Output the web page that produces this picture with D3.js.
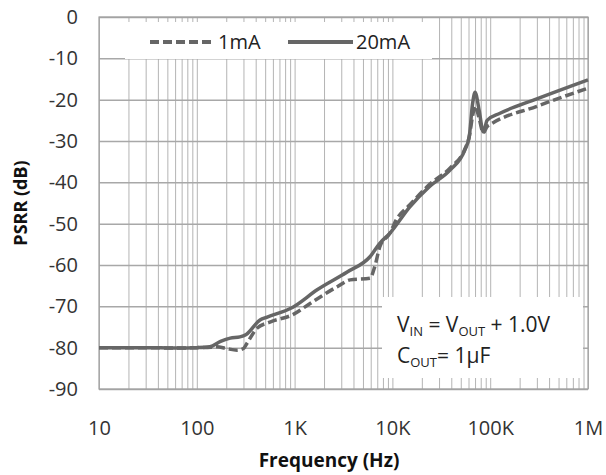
<!DOCTYPE html>
<html>
<head>
<meta charset="utf-8">
<script src="https://cdn.jsdelivr.net/npm/d3@7"></script>
<style>
  body { margin: 0; background: #fff; }
  svg { display: block; font-family: "Open Sans", sans-serif; }
  .grid line { stroke: #b4b4b4; stroke-width: 1; }
  .grid path { display: none; }
  .hgrid line { stroke: #a8a8a8; stroke-width: 1.5; }
  .axis path, .axis line { display: none; }
  .axis text { fill: #333; font-size: 20px; font-family: "Open Sans", sans-serif; }
  .curve { fill: none; stroke: #666; stroke-width: 3.5; stroke-linejoin: round; }
</style>
</head>
<body>
<div id="chart"></div>
<script>
// 20mA curve (solid)
const freq20mA = [10, 30, 60, 100, 136, 175, 220, 276, 320, 443, 525, 960, 1700, 3450, 5900, 7460, 9440,
  15000, 24000, 39000, 55000, 61000, 66000, 70000, 77000, 85000, 93000, 126000, 300000, 1000000]
const psrr20mA = [-80, -80, -80.1, -80, -79.8, -78.5, -77.7, -77.4, -76.8, -73.3, -72.6, -70.2, -66, -61.7, -58, -54.7, -52.3,
  -46, -41, -37, -32.2, -29, -21, -18.2, -22.5, -27.8, -25, -23.3, -19.8, -15.2]

// 1mA curve (dashed)
const freq1mA = [10, 30, 60, 100, 140, 161, 200, 258, 300, 325, 412, 560, 960, 1440, 2700, 3700, 5900, 6600, 7460, 9440,
  11000, 15000, 24000, 39000, 55000, 61000, 66000, 70000, 77000, 85000, 93000, 100000, 300000, 1000000]
const psrr1mA = [-80, -80, -80.1, -80, -79.9, -79.8, -80.2, -80.6, -80.2, -79, -75.3, -73.8, -72, -69.3, -65.3, -63.6, -63.2, -60.4, -55.5, -52.3,
  -49, -45.5, -40.5, -36.5, -32, -29, -24, -21.5, -24.5, -28, -26.5, -26, -21.6, -17.2]

const xTicks = [10, 100, 1e3, 1e4, 1e5, 1e6]
const xTickLabels = ['10', '100', '1K', '10K', '100K', '1M']
const yTicks = [0, -10, -20, -30, -40, -50, -60, -70, -80, -90]

const W = 606, H = 475
const margin = { left: 99, right: 588, top: 17, bottom: 389 }

const x = d3.scaleLog().domain([10, 1e6]).range([margin.left, margin.right])
const y = d3.scaleLinear().domain([-90, 0]).range([margin.bottom, margin.top])

const svg = d3.select('#chart').append('svg')
  .attr('width', W)
  .attr('height', H)

// minor + decade vertical grid
const minorTicks = []
for (let d = 10; d < 1e6; d *= 10) {
  for (let k = 1; k < 10; k++) minorTicks.push(d * k)
}
minorTicks.push(1e6)

svg.append('g')
  .attr('class', 'grid')
  .attr('transform', 'translate(0,' + margin.bottom + ')')
  .call(d3.axisBottom(x).tickValues(minorTicks).tickSize(-(margin.bottom - margin.top)).tickFormat(''))

// horizontal grid
svg.append('g')
  .attr('class', 'grid hgrid')
  .attr('transform', 'translate(' + margin.left + ',0)')
  .call(d3.axisLeft(y).tickValues(yTicks).tickSize(-(margin.right - margin.left)).tickFormat(''))

// white boxes behind legend and note
svg.append('rect').attr('x', 125).attr('y', 22).attr('width', 307).attr('height', 37).attr('fill', '#fff')
svg.append('rect').attr('x', 382).attr('y', 297).attr('width', 201).attr('height', 81).attr('fill', '#fff')

// frame
svg.append('rect')
  .attr('x', margin.left).attr('y', margin.top)
  .attr('width', margin.right - margin.left).attr('height', margin.bottom - margin.top)
  .attr('fill', 'none')
  .attr('stroke', '#a0a0a0')
  .attr('stroke-width', 1.2)

// axes labels
svg.append('g')
  .attr('class', 'axis')
  .attr('transform', 'translate(0,425)')
  .call(d3.axisBottom(x).tickValues(xTicks).tickSize(0)
    .tickFormat((d, i) => xTickLabels[i]))
  .selectAll('text').attr('dy', '0.35em')

svg.append('g')
  .attr('class', 'axis')
  .attr('transform', 'translate(78,0)')
  .call(d3.axisLeft(y).tickValues(yTicks).tickSize(0).tickPadding(0)
    .tickFormat(d => d))

// curves
const line = d3.line()
  .x(d => x(d[0]))
  .y(d => y(d[1]))
  .curve(d3.curveMonotoneX)

svg.append('path')
  .datum(d3.zip(freq1mA, psrr1mA))
  .attr('class', 'curve')
  .attr('stroke-dasharray', '9,4')
  .attr('d', line)

svg.append('path')
  .datum(d3.zip(freq20mA, psrr20mA))
  .attr('class', 'curve')
  .attr('d', line)

// legend
const lg = svg.append('g')
lg.append('line').attr('x1', 150).attr('x2', 214).attr('y1', 42).attr('y2', 42)
  .attr('stroke', '#666').attr('stroke-width', 4).attr('stroke-dasharray', '9,4')
lg.append('text').attr('x', 218).attr('y', 49).attr('font-size', 20).attr('fill', '#222').text('1mA')
lg.append('line').attr('x1', 288).attr('x2', 353).attr('y1', 42).attr('y2', 42)
  .attr('stroke', '#666').attr('stroke-width', 4)
lg.append('text').attr('x', 356).attr('y', 49).attr('font-size', 20).attr('fill', '#222').text('20mA')

// note
const note = svg.append('g').attr('font-size', 21).attr('fill', '#222')
const t1 = note.append('text').attr('x', 397).attr('y', 332)
t1.append('tspan').text('V')
t1.append('tspan').attr('font-size', 13).attr('dy', 4).text('IN')
t1.append('tspan').attr('dy', -4).text(' = V')
t1.append('tspan').attr('font-size', 13).attr('dy', 4).text('OUT')
t1.append('tspan').attr('dy', -4).text(' + 1.0V')
const t2 = note.append('text').attr('x', 397).attr('y', 363)
t2.append('tspan').text('C')
t2.append('tspan').attr('font-size', 13).attr('dy', 4).text('OUT')
t2.append('tspan').attr('dy', -4).text('= 1\u03bcF')

// axis titles
svg.append('text')
  .attr('x', 329).attr('y', 467)
  .attr('text-anchor', 'middle')
  .attr('font-size', 19).attr('font-weight', 'bold').attr('fill', '#111')
  .text('Frequency (Hz)')

svg.append('text')
  .attr('transform', 'translate(27,203) rotate(-90)')
  .attr('text-anchor', 'middle')
  .attr('font-size', 18).attr('font-weight', 'bold').attr('fill', '#111')
  .text('PSRR (dB)')
</script>
</body>
</html>
